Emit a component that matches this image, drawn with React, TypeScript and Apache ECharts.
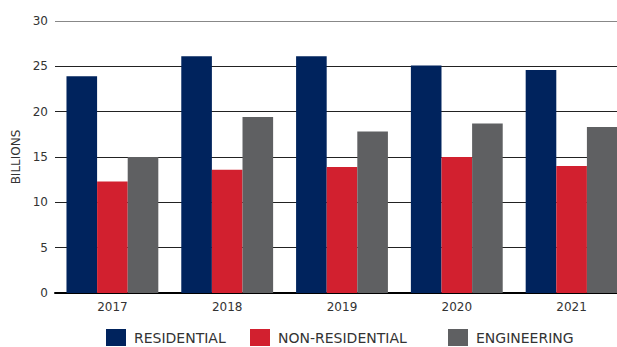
import React, { useEffect, useRef } from "react";
import * as echarts from "echarts";

const categories = ["2017", "2018", "2019", "2020", "2021"];
const residential = [23.9, 26.1, 26.1, 25.1, 24.6];
const nonResidential = [12.3, 13.6, 13.9, 15.0, 14.0];
const engineering = [15.0, 19.4, 17.8, 18.7, 18.3];
const seriesNames = ["RESIDENTIAL", "NON-RESIDENTIAL", "ENGINEERING"];
const yTicks = { min: 0, max: 30, interval: 5 };

export default function App() {
  const ref = useRef<HTMLDivElement>(null);
  useEffect(() => {
    const chart = echarts.init(ref.current!, null, { renderer: "svg" });
    const font = "'DejaVu Sans', sans-serif";
    const legendLefts = [106, 250, 448];
    chart.setOption({
      animation: false,
      textStyle: { fontFamily: font },
      grid: { left: 55, right: -12, top: 21, bottom: 54, containLabel: false, outerBoundsMode: "none" },
      legend: seriesNames.map((name, i) => ({
        top: 329,
        left: legendLefts[i],
        padding: 0,
        itemWidth: 20,
        itemHeight: 17,
        icon: "rect",
        textStyle: { fontSize: 14, color: "#333", fontFamily: font, padding: [2, 0, 0, 3] },
        data: [name],
      })),
      xAxis: {
        type: "category",
        data: categories,
        axisLine: { lineStyle: { color: "#000", width: 2 } },
        axisTick: { show: false },
        axisLabel: { fontSize: 12, color: "#333", margin: 8, fontFamily: font },
      },
      yAxis: {
        type: "value",
        min: yTicks.min,
        max: yTicks.max,
        interval: yTicks.interval,
        name: "BILLIONS",
        nameLocation: "middle",
        nameRotate: 90,
        nameGap: 28,
        nameTextStyle: { fontSize: 12, color: "#333", fontFamily: font },
        axisLine: { show: false },
        axisTick: { show: false },
        axisLabel: { fontSize: 12, color: "#333", margin: 7, fontFamily: font },
        splitLine: {
          lineStyle: {
            color: ["#222", "#222", "#222", "#222", "#222", "#222", "#888"],
            width: 1,
          },
        },
      },
      series: [
        { name: seriesNames[0], type: "bar", data: residential, itemStyle: { color: "#00235d" }, barGap: "0%", barCategoryGap: "20%" },
        { name: seriesNames[1], type: "bar", data: nonResidential, itemStyle: { color: "#d2202f" }, barGap: "0%", barCategoryGap: "20%" },
        { name: seriesNames[2], type: "bar", data: engineering, itemStyle: { color: "#5f6062" }, barGap: "0%", barCategoryGap: "20%" },
      ],
    });
    return () => chart.dispose();
  }, []);
  return <div ref={ref} style={{ position: "absolute", left: 0, top: 0, width: 617, height: 347 }} />;
}
